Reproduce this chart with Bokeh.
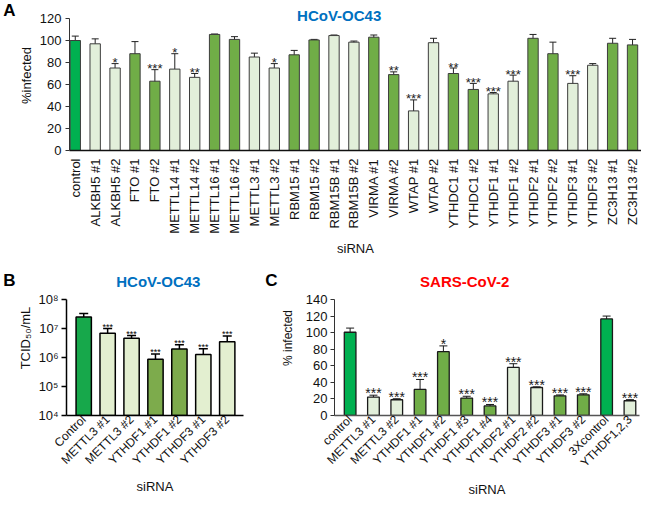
import math
from bokeh.plotting import figure
from bokeh.models import (ColumnDataSource, FixedTicker, Whisker, TeeHead, Label, Range1d,
                          LinearAxis)
from bokeh.layouts import column, row
from bokeh.core.properties import value
from bokeh.embed import file_html
from bokeh.resources import INLINE

FONT = "Liberation Sans"

# ---------------- Panel A data ----------------
labels_A = ["control", "ALKBH5 #1", "ALKBH5 #2", "FTO #1", "FTO #2", "METTL14 #1", "METTL14 #2",
            "METTL16 #1", "METTL16 #2", "METTL3 #1", "METTL3 #2", "RBM15 #1", "RBM15 #2",
            "RBM15B #1", "RBM15B #2", "VIRMA #1", "VIRMA #2", "WTAP #1", "WTAP #2",
            "YTHDC1 #1", "YTHDC1 #2", "YTHDF1 #1", "YTHDF1 #2", "YTHDF2 #1", "YTHDF2 #2",
            "YTHDF3 #1", "YTHDF3 #2", "ZC3H13 #1", "ZC3H13 #2"]
values_A = [100, 97, 75, 88, 63, 74, 66.5, 105.5, 101, 85, 75, 87, 100.5,
            104.5, 98.5, 103, 69, 36, 98, 70, 55.5, 51.5, 63, 102, 88, 61, 77.5, 97.5, 96]
errors_A = [4, 4.5, 4, 11, 10.5, 14, 3.5, 0.4, 2.5, 3.5, 4, 4, 0.5,
            0.5, 1, 2, 2.5, 10, 4, 5, 5.5, 1.2, 5.5, 3.5, 10.5, 7, 1.5, 4.5, 5]
stars_A = ["", "", "*", "", "***", "*", "**", "", "", "", "*", "", "",
           "", "", "", "**", "***", "", "**", "***", "***", "***", "", "", "***", "", "", ""]
ticks_A = [0, 20, 40, 60, 80, 100, 120]

# ---------------- Panel B data ----------------
labels_B = ["Control", "METTL3 #1", "METTL3 #2", "YTHDF1 #1", "YTHDF1 #2", "YTHDF3 #1", "YTHDF3 #2"]
values_B = [2.5e7, 6.9e6, 4.6e6, 8.7e5, 1.95e6, 1.27e6, 3.5e6]
upper_B = [3.3e7, 1.0e7, 5.7e6, 1.33e6, 2.75e6, 2.0e6, 5.5e6]
stars_B = ["", "***", "***", "***", "***", "***", "***"]
ticks_B = [1e4, 1e5, 1e6, 1e7, 1e8]
tick_labels_B = ["10\u2074", "10\u2075", "10\u2076", "10\u2077", "10\u2078"]

# ---------------- Panel C data ----------------
labels_C = ["control", "METTL3 #1", "METTL3 #2", "YTHDF1 #1", "YTHDF1 #2", "YTHDF1 #3",
            "YTHDF1 #4", "YTHDF2 #1", "YTHDF2 #2", "YTHDF3 #1", "YTHDF3 #2", "3Xcontrol", "YTHDF1,2,3"]
values_C = [100.5, 22.2, 19, 31.5, 77, 21, 11.5, 58, 33.8, 23.8, 25, 116.5, 17.8]
errors_C = [5, 2.3, 1.2, 12, 7, 2.2, 1.8, 4.5, 0.8, 1, 1.2, 3.5, 1.3]
stars_C = ["", "***", "***", "***", "*", "***", "***", "***", "***", "***", "***", "", "***"]
ticks_C = [0, 20, 40, 60, 80, 100, 120, 140]


def colours(labels, ctrl, light, dark):
    genes, out = [], []
    for lab in labels:
        if "control" in lab.lower():
            out.append(ctrl)
            continue
        g = lab.split(" #")[0]
        if g not in genes:
            genes.append(g)
        out.append(light if genes.index(g) % 2 == 0 else dark)
    return out


def style(p, tick_size, label_size, x_orient, xlabel, ylabel):
    p.outline_line_color = None
    p.background_fill_color = "white"
    p.border_fill_color = "white"
    p.xgrid.grid_line_color = None
    p.ygrid.grid_line_color = None
    for ax in (p.xaxis[0], p.yaxis[0]):
        ax.major_label_text_font = FONT
        ax.major_label_text_font_size = tick_size
        ax.major_label_text_color = "#111111"
        ax.axis_label_text_font = FONT
        ax.axis_label_text_font_size = label_size
        ax.axis_label_text_font_style = "normal"
        ax.axis_label_text_color = "#111111"
        ax.minor_tick_line_color = None
        ax.minor_tick_in = 0
        ax.minor_tick_out = 0
    p.xaxis.major_tick_line_color = None
    p.xaxis.major_tick_in = 0
    p.xaxis.major_tick_out = 0
    p.xaxis.major_label_orientation = x_orient
    p.xaxis.axis_label = xlabel
    p.yaxis.axis_label = ylabel
    p.yaxis.major_tick_in = 0
    p.yaxis.major_tick_out = 4
    p.yaxis.major_tick_line_color = "#333333"


def letter_axis(p, y, text):
    # panel letter drawn as the only tick label of an extra, invisible left axis
    ax = LinearAxis(ticker=FixedTicker(ticks=[y]), major_label_overrides={y: text})
    ax.axis_line_color = None
    ax.major_tick_line_color = None
    ax.minor_tick_line_color = None
    ax.major_tick_in = 0
    ax.major_tick_out = 0
    ax.minor_tick_in = 0
    ax.minor_tick_out = 0
    ax.major_label_standoff = 0
    ax.major_label_text_font = FONT
    ax.major_label_text_font_size = "17px"
    ax.major_label_text_font_style = "bold"
    ax.major_label_text_color = "black"
    p.add_layout(ax, "left")


def title_label(p, x, y, text, color):
    p.add_layout(Label(x=x, y=y, text=text, text_font=FONT, text_font_size="15px",
                       text_font_style="bold", text_color=color,
                       text_align="center", text_baseline="middle"))


# ================= Panel A =================
A_W, A_H, A_LEFT, A_RIGHT, A_BOTTOM = 641, 260, 63, 0, 110
A_PX_Y = 132 / 120          # pixels per % unit
xA = list(range(len(labels_A)))
srcA = ColumnDataSource(dict(
    x=xA, top=values_A,
    lower=[v - e for v, e in zip(values_A, errors_A)],
    upper=[v + e for v, e in zip(values_A, errors_A)],
    color=colours(labels_A, "#00B050", "#E2EFDA", "#70AD47"),
    star=stars_A))

xrA = Range1d(-0.29, 28.45)
yrA = Range1d(0, ticks_A[-1] + 18 / A_PX_Y)
pA = figure(width=A_W, height=A_H, x_range=xrA, y_range=yrA, output_backend="svg",
            toolbar_location=None, min_border_left=A_LEFT, min_border_right=A_RIGHT,
            min_border_top=0, min_border_bottom=A_BOTTOM)
pA.vbar(x="x", top="top", bottom=0, width=0.52, fill_color="color",
        line_color="#3c3c3c", line_width=1, source=srcA)
pA.add_layout(Whisker(base="x", upper="upper", lower="lower", source=srcA,
                      line_color="#222222", line_width=1,
                      upper_head=TeeHead(size=7, line_color="#222222", line_width=1),
                      lower_head=TeeHead(size=7, line_color="#222222", line_width=1)))
pA.text(x="x", y="upper", text="star", source=srcA, text_align="center",
        text_baseline="alphabetic", y_offset=-1, text_font=value(FONT),
        text_font_size="13px", text_color="#222222")
style(pA, "13px", "13px", math.pi / 2, "siRNA", "%infected")
pA.xaxis.ticker = FixedTicker(ticks=xA)
pA.xaxis.major_label_overrides = {i: lab for i, lab in enumerate(labels_A)}
pA.xaxis.major_label_standoff = 8
pA.xaxis.axis_label_standoff = 4
pA.xaxis.axis_line_color = "#111111"
pA.xaxis.axis_line_width = 1.5
pA.yaxis.ticker = FixedTicker(ticks=ticks_A)
pA.yaxis.bounds = (ticks_A[0], ticks_A[-1])
pA.yaxis.axis_line_color = "#333333"
pA.yaxis.major_label_standoff = 4
pA.yaxis.axis_label_standoff = 3
pxA = (A_W - A_LEFT - A_RIGHT) / (xrA.end - xrA.start)
letter_axis(pA, round(yrA.end - 8.5 / A_PX_Y, 3), "A")
title_label(pA, xrA.start + (335.5 - A_LEFT) / pxA, yrA.end - 15 / A_PX_Y, "HCoV-OC43", "#0070C0")

# ================= Row B / C geometry =================
R_H, R_BOTTOM = 243, 88
FRAME_H = R_H - R_BOTTOM      # frame reaches the top of the row
TOP_GAP = 39                  # px from row top to the highest tick

# ================= Panel B =================
B_W, B_LEFT, B_RIGHT = 262, 59, 19
B_PX_DEC = (FRAME_H - TOP_GAP) / 4.0      # pixels per decade
xB = list(range(len(labels_B)))
srcB = ColumnDataSource(dict(
    x=xB, top=values_B, upper=upper_B,
    color=colours(labels_B, "#17A84B", "#E3EFD0", "#7DAB4C"),
    star=stars_B))
xrB = Range1d(-0.72, 6.68)
logB_top = math.log10(ticks_B[0]) + FRAME_H / B_PX_DEC
yrB = Range1d(ticks_B[0], 10 ** logB_top)
pB = figure(width=B_W, height=R_H, x_range=xrB, y_range=yrB, y_axis_type="log",
            output_backend="svg", toolbar_location=None, min_border_left=B_LEFT,
            min_border_right=B_RIGHT, min_border_top=0, min_border_bottom=R_BOTTOM)
pB.vbar(x="x", top="top", bottom=ticks_B[0], width=0.64, fill_color="color",
        line_color="black", line_width=1.5, source=srcB)
pB.add_layout(Whisker(base="x", upper="upper", lower="top", source=srcB,
                      line_color="black", line_width=1.5,
                      upper_head=TeeHead(size=9, line_color="black", line_width=1.5),
                      lower_head=None))
pB.text(x="x", y="upper", text="star", source=srcB, text_align="center",
        text_baseline="alphabetic", y_offset=-2, text_font=value(FONT),
        text_font_size="9px", text_color="black")
style(pB, "12px", "13px", math.pi / 4, "siRNA", "TCID\u2085\u2080/mL")
pB.xaxis.ticker = FixedTicker(ticks=xB)
pB.xaxis.major_label_overrides = {i: lab for i, lab in enumerate(labels_B)}
pB.xaxis.major_label_standoff = 2
pB.xaxis.axis_label_standoff = 4
pB.xaxis.axis_line_color = "black"
pB.xaxis.axis_line_width = 1.5
pB.yaxis.ticker = FixedTicker(ticks=ticks_B)
pB.yaxis.bounds = (ticks_B[0], ticks_B[-1])
pB.yaxis.major_label_overrides = {t: s for t, s in zip(ticks_B, tick_labels_B)}
pB.yaxis.major_label_text_font_size = "13px"
pB.yaxis.axis_line_color = "black"
pB.yaxis.axis_line_width = 1.5
pB.yaxis.major_tick_line_color = "black"
pB.yaxis.major_tick_line_width = 1.5
pB.yaxis.major_tick_out = 5
pB.yaxis.major_label_standoff = 3
pB.yaxis.axis_label_standoff = 2
pxB = (B_W - B_LEFT - B_RIGHT) / (xrB.end - xrB.start)
letter_axis(pB, round(10 ** (logB_top - 20 / B_PX_DEC), 1), "B")
title_label(pB, xrB.start + (154.5 - B_LEFT) / pxB, 10 ** (logB_top - 21 / B_PX_DEC),
            "HCoV-OC43", "#0070C0")

# ================= Panel C =================
C_W, C_LEFT, C_RIGHT = 379, 70, 2
C_PX_Y = (FRAME_H - TOP_GAP) / 140.0
xC = list(range(len(labels_C)))
srcC = ColumnDataSource(dict(
    x=xC, top=values_C,
    lower=[v - e for v, e in zip(values_C, errors_C)],
    upper=[v + e for v, e in zip(values_C, errors_C)],
    color=colours(labels_C, "#00B050", "#E2EFDA", "#70AD47"),
    star=stars_C))
xrC = Range1d(-0.67, 12.41)
yrC = Range1d(0, FRAME_H / C_PX_Y)
pC = figure(width=C_W, height=R_H, x_range=xrC, y_range=yrC, output_backend="svg",
            toolbar_location=None, min_border_left=C_LEFT, min_border_right=C_RIGHT,
            min_border_top=0, min_border_bottom=R_BOTTOM)
pC.vbar(x="x", top="top", bottom=0, width=0.5, fill_color="color",
        line_color="#1a1a1a", line_width=1.3, source=srcC)
pC.add_layout(Whisker(base="x", upper="upper", lower="lower", source=srcC,
                      line_color="#1a1a1a", line_width=1,
                      upper_head=TeeHead(size=8, line_color="#1a1a1a", line_width=1),
                      lower_head=TeeHead(size=8, line_color="#1a1a1a", line_width=1)))
pC.text(x="x", y="upper", text="star", source=srcC, text_align="center",
        text_baseline="alphabetic", y_offset=-2, text_font=value(FONT),
        text_font_size="14px", text_color="#1a1a1a")
style(pC, "12px", "12px", math.pi / 4, "siRNA", "% infected")
pC.xaxis.ticker = FixedTicker(ticks=xC)
pC.xaxis.major_label_overrides = {i: lab for i, lab in enumerate(labels_C)}
pC.xaxis.major_label_standoff = 2
pC.xaxis.axis_label_standoff = 4
pC.xaxis.axis_label_text_font_size = "13px"
pC.xaxis.axis_line_color = "#555555"
pC.xaxis.axis_line_width = 1.5
pC.yaxis.ticker = FixedTicker(ticks=ticks_C)
pC.yaxis.bounds = (ticks_C[0], ticks_C[-1])
pC.yaxis.major_label_text_font_size = "13px"
pC.yaxis.axis_line_color = "#333333"
pC.yaxis.major_label_standoff = 3
pC.yaxis.axis_label_standoff = 8
pxC = (C_W - C_LEFT - C_RIGHT) / (xrC.end - xrC.start)
letter_axis(pC, round(yrC.end - 20 / C_PX_Y, 2), "C")
title_label(pC, xrC.start + (463 - (B_W + C_LEFT)) / pxC, yrC.end - 21 / C_PX_Y,
            "SARS-CoV-2", "#FF0000")

layout = column(pA, row(pB, pC, spacing=0), spacing=0)
open("out.html", "w").write(file_html(layout, INLINE))
